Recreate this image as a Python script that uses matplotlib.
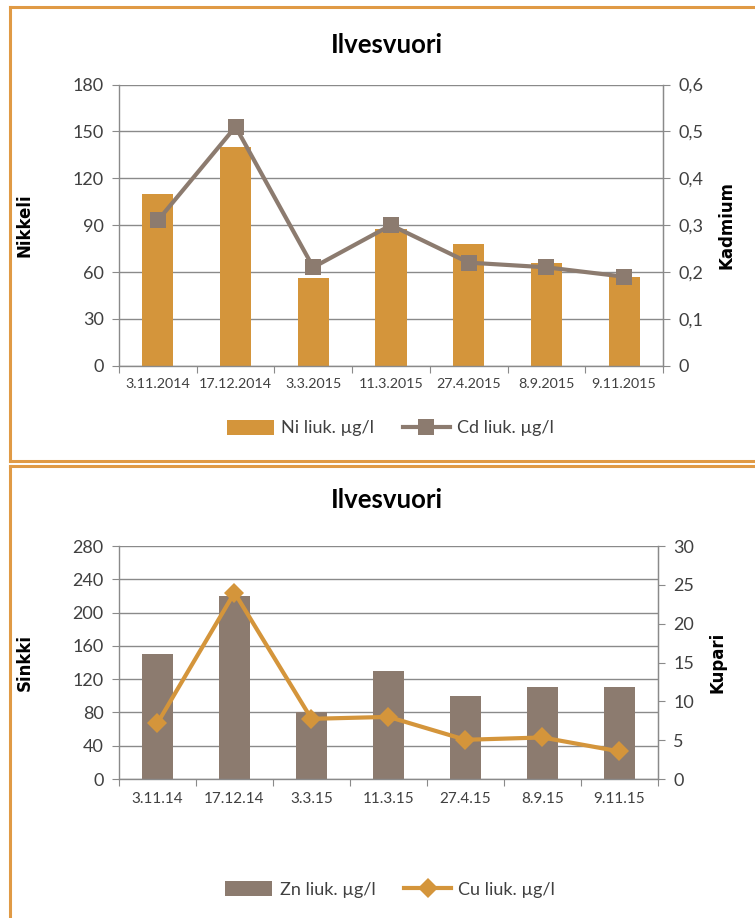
import matplotlib
matplotlib.use("Agg")
import matplotlib.pyplot as plt
from matplotlib.lines import Line2D
import numpy as np

plt.rcParams['font.family'] = ['Lato', 'DejaVu Sans']

# Sampling data
dates_long = ["3.11.2014", "17.12.2014", "3.3.2015", "11.3.2015",
              "27.4.2015", "8.9.2015", "9.11.2015"]
dates_short = ["3.11.14", "17.12.14", "3.3.15", "11.3.15",
               "27.4.15", "8.9.15", "9.11.15"]
ni = [110, 140, 56, 87.5, 78, 66, 57]
cd = [0.31, 0.51, 0.21, 0.30, 0.22, 0.21, 0.19]
zn = [150, 220, 80, 130, 100, 110, 110]
cu = [7.2, 24.0, 7.75, 8.0, 5.05, 5.35, 3.55]

orange = "#D4953B"
brown = "#8C7B6F"
grid_c = "#8A8A8A"
text_c = "#404040"
border_c = "#E09A45"

fig = plt.figure(figsize=(7.55, 9.18), dpi=100)


def panel(rect, labels, xfs, bars, bar_c, bar_label, line, line_c, line_label,
          marker, ms, ylim, yticks, y2lim, y2ticks, y2fmt, ylabel, y2label,
          title, title_y, legend_y):
    ax = fig.add_axes(rect)
    n = len(labels)
    x = np.arange(n)
    ax.bar(x, bars, width=0.4, color=bar_c, zorder=2, label=bar_label)
    ax.set_xlim(-0.5, n - 0.5)
    ax.set_ylim(*ylim)
    ax.set_yticks(yticks)
    ax.yaxis.grid(True, color=grid_c, linewidth=1.0, zorder=0)
    ax.set_axisbelow(True)
    # category boundaries carry the tick marks; labels sit at the centres
    ax.set_xticks(np.arange(-0.5, n, 1.0))
    ax.set_xticklabels([])
    ax.set_xticks(x, minor=True)
    ax.set_xticklabels(labels, minor=True, fontsize=xfs, color=text_c)
    ax.tick_params(axis="x", which="major", length=5, color=grid_c, direction="out")
    ax.tick_params(axis="x", which="minor", length=0, pad=9)
    ax.tick_params(axis="y", length=5, color=grid_c, labelsize=13, labelcolor=text_c, pad=6)
    ax.spines["top"].set_visible(False)
    for s in ("left", "bottom", "right"):
        ax.spines[s].set_color(grid_c)
        ax.spines[s].set_linewidth(1.0)
    ax.set_ylabel(ylabel, fontsize=12, fontweight="bold", family="DejaVu Sans",
                  color="black", labelpad=28)

    ax2 = ax.twinx()
    ax2.plot(x, line, color=line_c, linewidth=3, marker=marker, markersize=ms,
             markeredgewidth=0, zorder=3, label=line_label)
    ax2.set_ylim(*y2lim)
    ax2.set_yticks(y2ticks)
    ax2.set_yticklabels([y2fmt(v) for v in y2ticks])
    ax2.tick_params(axis="y", length=5, color=grid_c, labelsize=13, labelcolor=text_c, pad=6)
    for s in ("top", "left", "bottom"):
        ax2.spines[s].set_visible(False)
    ax2.spines["right"].set_color(grid_c)
    ax2.set_ylabel(y2label, fontsize=12, fontweight="bold", family="DejaVu Sans",
                   color="black", rotation=90, labelpad=10)

    fig.text(0.512, title_y, title, ha="center", va="center", fontsize=18.5,
             fontweight="bold", color="black")

    handles = [ax.patches[0], ax2.lines[0]]
    fig.legend(handles, [bar_label, line_label], loc="center",
               bbox_to_anchor=(0.517, legend_y), ncol=2, frameon=False,
               fontsize=13, labelcolor=text_c, handlelength=2.6,
               handleheight=0.9, columnspacing=1.6, handletextpad=0.4)
    return ax, ax2


panel([0.1576, 0.6016, 0.7205, 0.3063], dates_long, 10.3,
      ni, orange, "Ni liuk. µg/l", cd, brown, "Cd liuk. µg/l", "s", 12,
      (0, 180), [0, 30, 60, 90, 120, 150, 180],
      (0, 0.6), [0, 0.1, 0.2, 0.3, 0.4, 0.5, 0.6],
      lambda v: "0" if v == 0 else f"{v:.1f}".replace(".", ","),
      "Nikkeli", "Kadmium", "Ilvesvuori", 0.951, 0.5337)

panel([0.1576, 0.1514, 0.7139, 0.2538], dates_short, 11,
      zn, brown, "Zn liuk. µg/l", cu, orange, "Cu liuk. µg/l", "D", 10,
      (0, 280), [0, 40, 80, 120, 160, 200, 240, 280],
      (0, 30), [0, 5, 10, 15, 20, 25, 30],
      lambda v: f"{v:d}",
      "Sinkki", "Kupari", "Ilvesvuori", 0.455, 0.031)

# Panel frames
def fline(xs, ys):
    fig.add_artist(Line2D(xs, ys, transform=fig.transFigure, color=border_c,
                          linewidth=2.2))

top_y, bot_y = 1 - 6.5 / 918, 1 - 461 / 918
left_x = 9.5 / 755
fline([left_x, 1.0], [top_y, top_y])
fline([left_x, left_x], [top_y, bot_y])
fline([left_x, 1.0], [bot_y, bot_y])
top2 = 1 - 466 / 918
fline([left_x, 1.0], [top2, top2])
fline([left_x, left_x], [top2, 0.0])

fig.savefig("out.png", dpi=100)
